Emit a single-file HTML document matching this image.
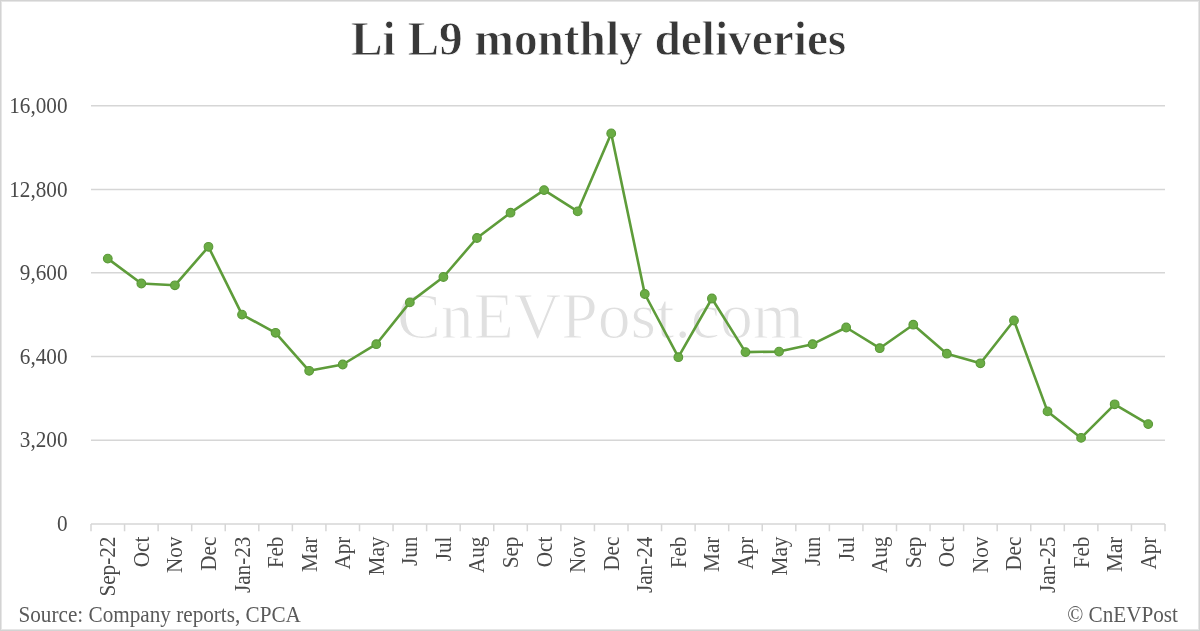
<!DOCTYPE html><html><head><meta charset="utf-8"><style>html,body{margin:0;padding:0;background:#fff;}svg{display:block;will-change:transform;}text{font-family:"Liberation Serif",serif;}</style></head><body>
<svg width="1200" height="631" viewBox="0 0 1200 631">
<rect x="0" y="0" width="1200" height="631" fill="#fff"/>
<rect x="0.5" y="0.5" width="1199" height="630" fill="none" stroke="#D3D3D3" stroke-width="1"/>
<rect x="1.5" y="1.5" width="1197" height="628" fill="none" stroke="#E6E6E6" stroke-width="1"/>
<text transform="translate(351,54.9) scale(1,1.04)" x="0" y="0" font-size="47.3" font-weight="bold" fill="#383838" stroke="#fff" stroke-width="0.8">Li L9 monthly deliveries</text>
<text x="397" y="337.5" font-size="65.7" fill="#E0E0E0" stroke="#fff" stroke-width="1.1">CnEVPost.com</text>
<line x1="91.0" y1="440.20" x2="1165.0" y2="440.20" stroke="#D6D6D6" stroke-width="1.5"/>
<line x1="91.0" y1="356.56" x2="1165.0" y2="356.56" stroke="#D6D6D6" stroke-width="1.5"/>
<line x1="91.0" y1="272.80" x2="1165.0" y2="272.80" stroke="#D6D6D6" stroke-width="1.5"/>
<line x1="91.0" y1="189.48" x2="1165.0" y2="189.48" stroke="#D6D6D6" stroke-width="1.5"/>
<line x1="91.0" y1="105.79" x2="1165.0" y2="105.79" stroke="#D6D6D6" stroke-width="1.5"/>
<text transform="translate(67.5,531.28) scale(1,1.05)" text-anchor="end" font-size="21.2" fill="#4A4A4A">0</text>
<text transform="translate(67.5,447.40) scale(1,1.05)" text-anchor="end" font-size="21.2" fill="#4A4A4A">3,200</text>
<text transform="translate(67.5,363.76) scale(1,1.05)" text-anchor="end" font-size="21.2" fill="#4A4A4A">6,400</text>
<text transform="translate(67.5,280.00) scale(1,1.05)" text-anchor="end" font-size="21.2" fill="#4A4A4A">9,600</text>
<text transform="translate(67.5,196.68) scale(1,1.05)" text-anchor="end" font-size="21.2" fill="#4A4A4A">12,800</text>
<text transform="translate(67.5,112.99) scale(1,1.05)" text-anchor="end" font-size="21.2" fill="#4A4A4A">16,000</text>
<line x1="91.0" y1="524.08" x2="1165.0" y2="524.08" stroke="#D6D6D6" stroke-width="1.5"/>
<line x1="91.00" y1="524.08" x2="91.00" y2="531.2800000000001" stroke="#D6D6D6" stroke-width="1.5"/>
<line x1="124.56" y1="524.08" x2="124.56" y2="531.2800000000001" stroke="#D6D6D6" stroke-width="1.5"/>
<line x1="158.12" y1="524.08" x2="158.12" y2="531.2800000000001" stroke="#D6D6D6" stroke-width="1.5"/>
<line x1="191.69" y1="524.08" x2="191.69" y2="531.2800000000001" stroke="#D6D6D6" stroke-width="1.5"/>
<line x1="225.25" y1="524.08" x2="225.25" y2="531.2800000000001" stroke="#D6D6D6" stroke-width="1.5"/>
<line x1="258.81" y1="524.08" x2="258.81" y2="531.2800000000001" stroke="#D6D6D6" stroke-width="1.5"/>
<line x1="292.38" y1="524.08" x2="292.38" y2="531.2800000000001" stroke="#D6D6D6" stroke-width="1.5"/>
<line x1="325.94" y1="524.08" x2="325.94" y2="531.2800000000001" stroke="#D6D6D6" stroke-width="1.5"/>
<line x1="359.50" y1="524.08" x2="359.50" y2="531.2800000000001" stroke="#D6D6D6" stroke-width="1.5"/>
<line x1="393.06" y1="524.08" x2="393.06" y2="531.2800000000001" stroke="#D6D6D6" stroke-width="1.5"/>
<line x1="426.62" y1="524.08" x2="426.62" y2="531.2800000000001" stroke="#D6D6D6" stroke-width="1.5"/>
<line x1="460.19" y1="524.08" x2="460.19" y2="531.2800000000001" stroke="#D6D6D6" stroke-width="1.5"/>
<line x1="493.75" y1="524.08" x2="493.75" y2="531.2800000000001" stroke="#D6D6D6" stroke-width="1.5"/>
<line x1="527.31" y1="524.08" x2="527.31" y2="531.2800000000001" stroke="#D6D6D6" stroke-width="1.5"/>
<line x1="560.88" y1="524.08" x2="560.88" y2="531.2800000000001" stroke="#D6D6D6" stroke-width="1.5"/>
<line x1="594.44" y1="524.08" x2="594.44" y2="531.2800000000001" stroke="#D6D6D6" stroke-width="1.5"/>
<line x1="628.00" y1="524.08" x2="628.00" y2="531.2800000000001" stroke="#D6D6D6" stroke-width="1.5"/>
<line x1="661.56" y1="524.08" x2="661.56" y2="531.2800000000001" stroke="#D6D6D6" stroke-width="1.5"/>
<line x1="695.12" y1="524.08" x2="695.12" y2="531.2800000000001" stroke="#D6D6D6" stroke-width="1.5"/>
<line x1="728.69" y1="524.08" x2="728.69" y2="531.2800000000001" stroke="#D6D6D6" stroke-width="1.5"/>
<line x1="762.25" y1="524.08" x2="762.25" y2="531.2800000000001" stroke="#D6D6D6" stroke-width="1.5"/>
<line x1="795.81" y1="524.08" x2="795.81" y2="531.2800000000001" stroke="#D6D6D6" stroke-width="1.5"/>
<line x1="829.38" y1="524.08" x2="829.38" y2="531.2800000000001" stroke="#D6D6D6" stroke-width="1.5"/>
<line x1="862.94" y1="524.08" x2="862.94" y2="531.2800000000001" stroke="#D6D6D6" stroke-width="1.5"/>
<line x1="896.50" y1="524.08" x2="896.50" y2="531.2800000000001" stroke="#D6D6D6" stroke-width="1.5"/>
<line x1="930.06" y1="524.08" x2="930.06" y2="531.2800000000001" stroke="#D6D6D6" stroke-width="1.5"/>
<line x1="963.62" y1="524.08" x2="963.62" y2="531.2800000000001" stroke="#D6D6D6" stroke-width="1.5"/>
<line x1="997.19" y1="524.08" x2="997.19" y2="531.2800000000001" stroke="#D6D6D6" stroke-width="1.5"/>
<line x1="1030.75" y1="524.08" x2="1030.75" y2="531.2800000000001" stroke="#D6D6D6" stroke-width="1.5"/>
<line x1="1064.31" y1="524.08" x2="1064.31" y2="531.2800000000001" stroke="#D6D6D6" stroke-width="1.5"/>
<line x1="1097.88" y1="524.08" x2="1097.88" y2="531.2800000000001" stroke="#D6D6D6" stroke-width="1.5"/>
<line x1="1131.44" y1="524.08" x2="1131.44" y2="531.2800000000001" stroke="#D6D6D6" stroke-width="1.5"/>
<line x1="1165.00" y1="524.08" x2="1165.00" y2="531.2800000000001" stroke="#D6D6D6" stroke-width="1.5"/>
<text transform="translate(115.28,536.6) rotate(-90) scale(1,1.05)" text-anchor="end" font-size="21.2" fill="#4A4A4A">Sep-22</text>
<text transform="translate(148.84,536.6) rotate(-90) scale(1,1.05)" text-anchor="end" font-size="21.2" fill="#4A4A4A">Oct</text>
<text transform="translate(182.41,536.6) rotate(-90) scale(1,1.05)" text-anchor="end" font-size="21.2" fill="#4A4A4A">Nov</text>
<text transform="translate(215.97,536.6) rotate(-90) scale(1,1.05)" text-anchor="end" font-size="21.2" fill="#4A4A4A">Dec</text>
<text transform="translate(249.53,536.6) rotate(-90) scale(1,1.05)" text-anchor="end" font-size="21.2" fill="#4A4A4A">Jan-23</text>
<text transform="translate(283.09,536.6) rotate(-90) scale(1,1.05)" text-anchor="end" font-size="21.2" fill="#4A4A4A">Feb</text>
<text transform="translate(316.66,536.6) rotate(-90) scale(1,1.05)" text-anchor="end" font-size="21.2" fill="#4A4A4A">Mar</text>
<text transform="translate(350.22,536.6) rotate(-90) scale(1,1.05)" text-anchor="end" font-size="21.2" fill="#4A4A4A">Apr</text>
<text transform="translate(383.78,536.6) rotate(-90) scale(1,1.05)" text-anchor="end" font-size="21.2" fill="#4A4A4A">May</text>
<text transform="translate(417.34,536.6) rotate(-90) scale(1,1.05)" text-anchor="end" font-size="21.2" fill="#4A4A4A">Jun</text>
<text transform="translate(450.91,536.6) rotate(-90) scale(1,1.05)" text-anchor="end" font-size="21.2" fill="#4A4A4A">Jul</text>
<text transform="translate(484.47,536.6) rotate(-90) scale(1,1.05)" text-anchor="end" font-size="21.2" fill="#4A4A4A">Aug</text>
<text transform="translate(518.03,536.6) rotate(-90) scale(1,1.05)" text-anchor="end" font-size="21.2" fill="#4A4A4A">Sep</text>
<text transform="translate(551.59,536.6) rotate(-90) scale(1,1.05)" text-anchor="end" font-size="21.2" fill="#4A4A4A">Oct</text>
<text transform="translate(585.16,536.6) rotate(-90) scale(1,1.05)" text-anchor="end" font-size="21.2" fill="#4A4A4A">Nov</text>
<text transform="translate(618.72,536.6) rotate(-90) scale(1,1.05)" text-anchor="end" font-size="21.2" fill="#4A4A4A">Dec</text>
<text transform="translate(652.28,536.6) rotate(-90) scale(1,1.05)" text-anchor="end" font-size="21.2" fill="#4A4A4A">Jan-24</text>
<text transform="translate(685.84,536.6) rotate(-90) scale(1,1.05)" text-anchor="end" font-size="21.2" fill="#4A4A4A">Feb</text>
<text transform="translate(719.41,536.6) rotate(-90) scale(1,1.05)" text-anchor="end" font-size="21.2" fill="#4A4A4A">Mar</text>
<text transform="translate(752.97,536.6) rotate(-90) scale(1,1.05)" text-anchor="end" font-size="21.2" fill="#4A4A4A">Apr</text>
<text transform="translate(786.53,536.6) rotate(-90) scale(1,1.05)" text-anchor="end" font-size="21.2" fill="#4A4A4A">May</text>
<text transform="translate(820.09,536.6) rotate(-90) scale(1,1.05)" text-anchor="end" font-size="21.2" fill="#4A4A4A">Jun</text>
<text transform="translate(853.66,536.6) rotate(-90) scale(1,1.05)" text-anchor="end" font-size="21.2" fill="#4A4A4A">Jul</text>
<text transform="translate(887.22,536.6) rotate(-90) scale(1,1.05)" text-anchor="end" font-size="21.2" fill="#4A4A4A">Aug</text>
<text transform="translate(920.78,536.6) rotate(-90) scale(1,1.05)" text-anchor="end" font-size="21.2" fill="#4A4A4A">Sep</text>
<text transform="translate(954.34,536.6) rotate(-90) scale(1,1.05)" text-anchor="end" font-size="21.2" fill="#4A4A4A">Oct</text>
<text transform="translate(987.91,536.6) rotate(-90) scale(1,1.05)" text-anchor="end" font-size="21.2" fill="#4A4A4A">Nov</text>
<text transform="translate(1021.47,536.6) rotate(-90) scale(1,1.05)" text-anchor="end" font-size="21.2" fill="#4A4A4A">Dec</text>
<text transform="translate(1055.03,536.6) rotate(-90) scale(1,1.05)" text-anchor="end" font-size="21.2" fill="#4A4A4A">Jan-25</text>
<text transform="translate(1088.59,536.6) rotate(-90) scale(1,1.05)" text-anchor="end" font-size="21.2" fill="#4A4A4A">Feb</text>
<text transform="translate(1122.16,536.6) rotate(-90) scale(1,1.05)" text-anchor="end" font-size="21.2" fill="#4A4A4A">Mar</text>
<text transform="translate(1155.72,536.6) rotate(-90) scale(1,1.05)" text-anchor="end" font-size="21.2" fill="#4A4A4A">Apr</text>
<polyline points="107.78,258.60 141.34,283.50 174.91,285.30 208.47,246.80 242.03,314.60 275.59,332.80 309.16,370.80 342.72,364.50 376.28,344.20 409.84,302.40 443.41,277.00 476.97,238.00 510.53,212.70 544.09,190.10 577.66,211.40 611.22,133.40 644.78,294.00 678.34,357.20 711.91,298.50 745.47,352.10 779.03,351.60 812.59,344.20 846.16,327.50 879.72,348.20 913.28,324.70 946.84,353.70 980.41,363.30 1013.97,320.50 1047.53,411.40 1081.09,437.90 1114.66,404.30 1148.22,424.10" fill="none" stroke="#5E9C3A" stroke-width="2.6" stroke-linejoin="round"/>
<circle cx="107.78" cy="258.60" r="4.35" fill="#6AAC44" stroke="#5A9838" stroke-width="1.1"/>
<circle cx="141.34" cy="283.50" r="4.35" fill="#6AAC44" stroke="#5A9838" stroke-width="1.1"/>
<circle cx="174.91" cy="285.30" r="4.35" fill="#6AAC44" stroke="#5A9838" stroke-width="1.1"/>
<circle cx="208.47" cy="246.80" r="4.35" fill="#6AAC44" stroke="#5A9838" stroke-width="1.1"/>
<circle cx="242.03" cy="314.60" r="4.35" fill="#6AAC44" stroke="#5A9838" stroke-width="1.1"/>
<circle cx="275.59" cy="332.80" r="4.35" fill="#6AAC44" stroke="#5A9838" stroke-width="1.1"/>
<circle cx="309.16" cy="370.80" r="4.35" fill="#6AAC44" stroke="#5A9838" stroke-width="1.1"/>
<circle cx="342.72" cy="364.50" r="4.35" fill="#6AAC44" stroke="#5A9838" stroke-width="1.1"/>
<circle cx="376.28" cy="344.20" r="4.35" fill="#6AAC44" stroke="#5A9838" stroke-width="1.1"/>
<circle cx="409.84" cy="302.40" r="4.35" fill="#6AAC44" stroke="#5A9838" stroke-width="1.1"/>
<circle cx="443.41" cy="277.00" r="4.35" fill="#6AAC44" stroke="#5A9838" stroke-width="1.1"/>
<circle cx="476.97" cy="238.00" r="4.35" fill="#6AAC44" stroke="#5A9838" stroke-width="1.1"/>
<circle cx="510.53" cy="212.70" r="4.35" fill="#6AAC44" stroke="#5A9838" stroke-width="1.1"/>
<circle cx="544.09" cy="190.10" r="4.35" fill="#6AAC44" stroke="#5A9838" stroke-width="1.1"/>
<circle cx="577.66" cy="211.40" r="4.35" fill="#6AAC44" stroke="#5A9838" stroke-width="1.1"/>
<circle cx="611.22" cy="133.40" r="4.35" fill="#6AAC44" stroke="#5A9838" stroke-width="1.1"/>
<circle cx="644.78" cy="294.00" r="4.35" fill="#6AAC44" stroke="#5A9838" stroke-width="1.1"/>
<circle cx="678.34" cy="357.20" r="4.35" fill="#6AAC44" stroke="#5A9838" stroke-width="1.1"/>
<circle cx="711.91" cy="298.50" r="4.35" fill="#6AAC44" stroke="#5A9838" stroke-width="1.1"/>
<circle cx="745.47" cy="352.10" r="4.35" fill="#6AAC44" stroke="#5A9838" stroke-width="1.1"/>
<circle cx="779.03" cy="351.60" r="4.35" fill="#6AAC44" stroke="#5A9838" stroke-width="1.1"/>
<circle cx="812.59" cy="344.20" r="4.35" fill="#6AAC44" stroke="#5A9838" stroke-width="1.1"/>
<circle cx="846.16" cy="327.50" r="4.35" fill="#6AAC44" stroke="#5A9838" stroke-width="1.1"/>
<circle cx="879.72" cy="348.20" r="4.35" fill="#6AAC44" stroke="#5A9838" stroke-width="1.1"/>
<circle cx="913.28" cy="324.70" r="4.35" fill="#6AAC44" stroke="#5A9838" stroke-width="1.1"/>
<circle cx="946.84" cy="353.70" r="4.35" fill="#6AAC44" stroke="#5A9838" stroke-width="1.1"/>
<circle cx="980.41" cy="363.30" r="4.35" fill="#6AAC44" stroke="#5A9838" stroke-width="1.1"/>
<circle cx="1013.97" cy="320.50" r="4.35" fill="#6AAC44" stroke="#5A9838" stroke-width="1.1"/>
<circle cx="1047.53" cy="411.40" r="4.35" fill="#6AAC44" stroke="#5A9838" stroke-width="1.1"/>
<circle cx="1081.09" cy="437.90" r="4.35" fill="#6AAC44" stroke="#5A9838" stroke-width="1.1"/>
<circle cx="1114.66" cy="404.30" r="4.35" fill="#6AAC44" stroke="#5A9838" stroke-width="1.1"/>
<circle cx="1148.22" cy="424.10" r="4.35" fill="#6AAC44" stroke="#5A9838" stroke-width="1.1"/>
<text transform="translate(18.5,621.8) scale(1,1.05)" font-size="21.2" fill="#5A5A5A">Source: Company reports, CPCA</text>
<text transform="translate(1178,621.8) scale(1,1.05)" text-anchor="end" font-size="21.2" fill="#5A5A5A">© CnEVPost</text>
</svg></body></html>
